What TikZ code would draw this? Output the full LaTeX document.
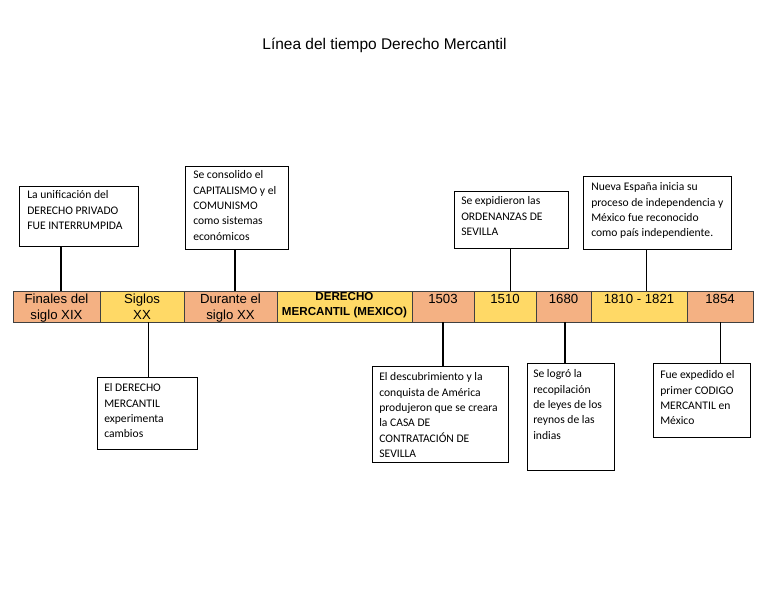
\documentclass[tikz,border=0pt]{standalone}
\usepackage{fontspec}
\setmainfont{Liberation Sans}
\newfontfamily\calibri{Carlito}
\usetikzlibrary{positioning}
\definecolor{naranja}{HTML}{F4B183}
\definecolor{amarillo}{HTML}{FFD966}
\tikzset{
  celda/.style={draw=black!75, line width=0.6pt, minimum height=23.25pt, inner sep=0pt,
    outer sep=0pt, align=center, text depth=0pt, font=\fontsize{9.9}{12}\selectfont},
  caja/.style={draw, line width=0.6pt, anchor=north west, inner sep=0pt, outer sep=0pt},
  texto/.style={anchor=north west, inner sep=0pt, align=left,
    font=\calibri\fontsize{8.7}{11.5}\selectfont},
  fina/.style={line width=0.7pt},
  gruesa/.style={line width=1.5pt}
}
\begin{document}
\begin{tikzpicture}[x=0.75pt,y=-0.75pt]
  \useasboundingbox (0,0) rectangle (768,594);
  \node[font=\fontsize{11.6}{14}\selectfont] (titulo) at (384.5,45) {Línea del tiempo Derecho Mercantil};

  % linea del tiempo
  \node[celda, fill=naranja, anchor=north west, minimum width=65.25pt] (c1) at (13,291) {Finales del\\siglo XIX};
  \node[celda, fill=amarillo, minimum width=63pt, right=0pt of c1] (c2) {Siglos\\XX};
  \node[celda, fill=naranja, minimum width=69.75pt, right=0pt of c2] (c3) {Durante el\\siglo XX};
  \node[celda, fill=amarillo, minimum width=101.25pt, right=0pt of c3] (c4) {};
  \node[font=\bfseries\fontsize{8.7}{11.25}\selectfont, align=center, inner sep=0pt] (t0) at ([yshift=0.9pt]c4.center) {DERECHO\\MERCANTIL (MEXICO)};
  \node[celda, fill=naranja, minimum width=46.5pt, right=0pt of c4] (c5) {1503\\~};
  \node[celda, fill=amarillo, minimum width=46.5pt, right=0pt of c5] (c6) {1510\\~};
  \node[celda, fill=naranja, minimum width=41.25pt, right=0pt of c6] (c7) {1680\\~};
  \node[celda, fill=amarillo, minimum width=72pt, right=0pt of c7] (c8) {1810 - 1821\\~};
  \node[celda, fill=naranja, minimum width=49.5pt, right=0pt of c8] (c9) {1854\\~};

  % cajas de arriba
  \node[caja, minimum width=89.25pt, minimum height=45pt] (b1) at (19,186) {};
  \node[texto] (t1) at (27,190.5) {La unificación del\\DERECHO PRIVADO\\FUE INTERRUMPIDA};
  \node[caja, minimum width=77.25pt, minimum height=62.25pt] (b2) at (185,166) {};
  \node[texto] (t2) at (193,170.5) {Se consolido el\\CAPITALISMO y el\\COMUNISMO\\como sistemas\\económicos};
  \node[caja, minimum width=85.5pt, minimum height=42.75pt] (b3) at (454,191) {};
  \node[texto] (t3) at (461,196.5) {Se expidieron las\\ORDENANZAS DE\\SEVILLA};
  \node[caja, minimum width=111pt, minimum height=54.75pt] (b4) at (583,176) {};
  \node[texto] (t4) at (591,182.5) {Nueva España inicia su\\proceso de independencia y\\México fue reconocido\\como país independiente.};

  % cajas de abajo
  \node[caja, minimum width=75pt, minimum height=54pt] (b5) at (97,377) {};
  \node[texto] (t5) at (104,383.5) {El DERECHO\\MERCANTIL\\experimenta\\cambios};
  \node[caja, minimum width=102pt, minimum height=72pt] (b6) at (372,366) {};
  \node[texto] (t6) at (379,372.5) {El descubrimiento y la\\conquista de América\\produjeron que se creara\\la CASA DE\\CONTRATACIÓN DE\\SEVILLA};
  \node[caja, minimum width=65.25pt, minimum height=80.25pt] (b7) at (527,363) {};
  \node[texto] (t7) at (533,369.5) {Se logró la\\recopilación\\de leyes de los\\reynos de las\\indias};
  \node[caja, minimum width=72.75pt, minimum height=55.5pt] (b8) at (653,363) {};
  \node[texto] (t8) at (660,370.5) {Fue expedido el\\primer CODIGO\\MERCANTIL en\\México};

  % conectores
  \draw[gruesa] ([xshift=3.375pt]c1.north) -- ([xshift=3.375pt]c1.north |- b1.south);
  \draw[gruesa] ([xshift=3.375pt]c3.north) -- ([xshift=3.375pt]c3.north |- b2.south);
  \draw[fina] ([xshift=3.75pt]c6.north) -- ([xshift=3.75pt]c6.north |- b3.south);
  \draw[fina] ([xshift=5.625pt]c8.north) -- ([xshift=5.625pt]c8.north |- b4.south);
  \draw[fina] ([xshift=4.5pt]c2.south) -- ([xshift=4.5pt]c2.south |- b5.north);
  \draw[gruesa] (c5.south) -- (c5.south |- b6.north);
  \draw[gruesa] ([xshift=0.75pt]c7.south) -- ([xshift=0.75pt]c7.south |- b7.north);
  \draw[fina] (c9.south) -- (c9.south |- b8.north);
\end{tikzpicture}
\end{document}
